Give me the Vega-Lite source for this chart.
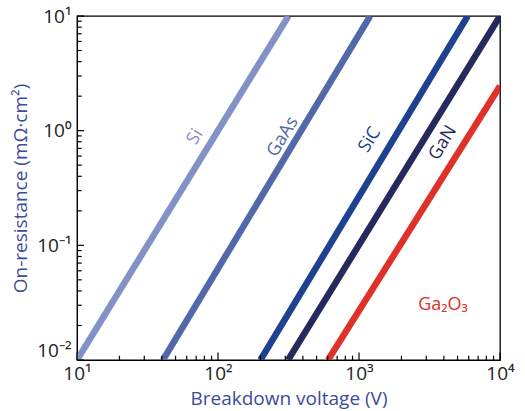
{
  "$schema": "https://vega.github.io/schema/vega-lite/v6.json",
  "autosize": "none",
  "width": 423,
  "height": 344,
  "padding": {"left": 77, "top": 16, "right": 25, "bottom": 51},
  "background": "white",
  "config": {
    "view": {"stroke": "black", "strokeWidth": 1.3},
    "font": "Open Sans"
  },
  "datasets": {
    "lines": [
      {"material": "Si", "voltage": 10, "resistance": 0.01},
      {"material": "Si", "voltage": 316, "resistance": 10},
      {"material": "GaAs", "voltage": 40.7, "resistance": 0.01},
      {"material": "GaAs", "voltage": 1200, "resistance": 10},
      {"material": "SiC", "voltage": 200, "resistance": 0.01},
      {"material": "SiC", "voltage": 5900, "resistance": 10},
      {"material": "GaN", "voltage": 314, "resistance": 0.01},
      {"material": "GaN", "voltage": 10000, "resistance": 10},
      {"material": "Ga2O3", "voltage": 603, "resistance": 0.01},
      {"material": "Ga2O3", "voltage": 10000, "resistance": 2.45}
    ],
    "labels": [
      {"material": "Si", "text": "Si", "voltage": 69, "resistance": 0.88, "angle": 301.5},
      {"material": "GaAs", "text": "GaAs", "voltage": 289, "resistance": 0.88, "angle": 301.5},
      {"material": "SiC", "text": "SiC", "voltage": 1197, "resistance": 0.83, "angle": 301.5},
      {"material": "GaN", "text": "GaN", "voltage": 3946, "resistance": 0.78, "angle": 301.5},
      {"material": "Ga2O3", "text": "Ga₂O₃", "voltage": 3946, "resistance": 0.030, "angle": 0}
    ],
    "xticks": [
      {"voltage": 10, "major": 1}, {"voltage": 20, "major": 0}, {"voltage": 30, "major": 0}, {"voltage": 40, "major": 0}, {"voltage": 50, "major": 0}, {"voltage": 60, "major": 0}, {"voltage": 70, "major": 0}, {"voltage": 80, "major": 0}, {"voltage": 90, "major": 0},
      {"voltage": 100, "major": 1}, {"voltage": 200, "major": 0}, {"voltage": 300, "major": 0}, {"voltage": 400, "major": 0}, {"voltage": 500, "major": 0}, {"voltage": 600, "major": 0}, {"voltage": 700, "major": 0}, {"voltage": 800, "major": 0}, {"voltage": 900, "major": 0},
      {"voltage": 1000, "major": 1}, {"voltage": 2000, "major": 0}, {"voltage": 3000, "major": 0}, {"voltage": 4000, "major": 0}, {"voltage": 5000, "major": 0}, {"voltage": 6000, "major": 0}, {"voltage": 7000, "major": 0}, {"voltage": 8000, "major": 0}, {"voltage": 9000, "major": 0},
      {"voltage": 10000, "major": 1}
    ],
    "yticks": [
      {"resistance": 0.01, "major": 1}, {"resistance": 0.02, "major": 0}, {"resistance": 0.03, "major": 0}, {"resistance": 0.04, "major": 0}, {"resistance": 0.05, "major": 0}, {"resistance": 0.06, "major": 0}, {"resistance": 0.07, "major": 0}, {"resistance": 0.08, "major": 0}, {"resistance": 0.09, "major": 0},
      {"resistance": 0.1, "major": 1}, {"resistance": 0.2, "major": 0}, {"resistance": 0.3, "major": 0}, {"resistance": 0.4, "major": 0}, {"resistance": 0.5, "major": 0}, {"resistance": 0.6, "major": 0}, {"resistance": 0.7, "major": 0}, {"resistance": 0.8, "major": 0}, {"resistance": 0.9, "major": 0},
      {"resistance": 1, "major": 1}, {"resistance": 2, "major": 0}, {"resistance": 3, "major": 0}, {"resistance": 4, "major": 0}, {"resistance": 5, "major": 0}, {"resistance": 6, "major": 0}, {"resistance": 7, "major": 0}, {"resistance": 8, "major": 0}, {"resistance": 9, "major": 0},
      {"resistance": 10, "major": 1}
    ]
  },
  "layer": [
    {
      "data": {"name": "lines"},
      "mark": {"type": "line", "strokeWidth": 6.5, "clip": true, "strokeCap": "butt"},
      "encoding": {
        "x": {
          "field": "voltage", "type": "quantitative",
          "scale": {"type": "log", "domain": [10, 10000], "nice": false},
          "axis": {
            "title": "Breakdown voltage (V)",
            "titleColor": "#3a4d9b", "titleFontSize": 19, "titleFontWeight": "normal", "titlePadding": 6,
            "values": [10, 100, 1000, 10000],
            "labelExpr": "datum.value == 10 ? '10¹' : datum.value == 100 ? '10²' : datum.value == 1000 ? '10³' : '10⁴'",
            "labelFontSize": 19, "labelColor": "#222", "labelOverlap": false, "labelFlush": false, "labelPadding": 4,
            "grid": false, "domainColor": "black", "ticks": false
          }
        },
        "y": {
          "field": "resistance", "type": "quantitative",
          "scale": {"type": "log", "domain": [0.01, 10], "nice": false},
          "axis": {
            "title": "On-resistance (mΩ·cm²)",
            "titleColor": "#3a4d9b", "titleFontSize": 19, "titleFontWeight": "normal", "titlePadding": 6,
            "values": [0.01, 0.1, 1, 10],
            "labelExpr": "datum.value == 0.01 ? '10⁻²' : datum.value == 0.1 ? '10⁻¹' : datum.value == 1 ? '10⁰' : '10¹'",
            "labelBaseline": {"condition": {"test": "datum.value == 0.01", "value": "bottom"}, "value": "middle"},
            "labelFontSize": 19, "labelColor": "#222", "labelOverlap": false, "labelFlush": false, "labelPadding": 6,
            "grid": false, "domainColor": "black", "ticks": false
          }
        },
        "color": {
          "field": "material", "type": "nominal", "legend": null,
          "scale": {"domain": ["Si", "GaAs", "SiC", "GaN", "Ga2O3"], "range": ["#8292c6", "#5169a9", "#1f4190", "#25295c", "#e0302a"]}
        },
        "detail": {"field": "material"}
      }
    },
    {
      "data": {"name": "xticks"},
      "transform": [{"filter": "datum.major == 1"}],
      "mark": {"type": "rule", "color": "black", "strokeWidth": 1.2},
      "encoding": {
        "x": {"field": "voltage", "type": "quantitative"},
        "y": {"datum": 0.01},
        "y2": {"datum": 0.0116}
      }
    },
    {
      "data": {"name": "xticks"},
      "transform": [{"filter": "datum.major == 0"}],
      "mark": {"type": "rule", "color": "black", "strokeWidth": 1.2},
      "encoding": {
        "x": {"field": "voltage", "type": "quantitative"},
        "y": {"datum": 0.01},
        "y2": {"datum": 0.0109}
      }
    },
    {
      "data": {"name": "yticks"},
      "transform": [{"filter": "datum.major == 1"}],
      "mark": {"type": "rule", "color": "black", "strokeWidth": 1.2},
      "encoding": {
        "y": {"field": "resistance", "type": "quantitative"},
        "x": {"datum": 10},
        "x2": {"datum": 11.2}
      }
    },
    {
      "data": {"name": "yticks"},
      "transform": [{"filter": "datum.major == 0"}],
      "mark": {"type": "rule", "color": "black", "strokeWidth": 1.2},
      "encoding": {
        "y": {"field": "resistance", "type": "quantitative"},
        "x": {"datum": 10},
        "x2": {"datum": 10.8}
      }
    },
    {
      "data": {"name": "labels"},
      "mark": {"type": "text", "fontSize": 18, "align": "center", "baseline": "middle"},
      "encoding": {
        "x": {"field": "voltage", "type": "quantitative"},
        "y": {"field": "resistance", "type": "quantitative"},
        "text": {"field": "text"},
        "angle": {"field": "angle", "type": "quantitative", "scale": null},
        "color": {"field": "material", "type": "nominal", "legend": null}
      }
    }
  ]
}
